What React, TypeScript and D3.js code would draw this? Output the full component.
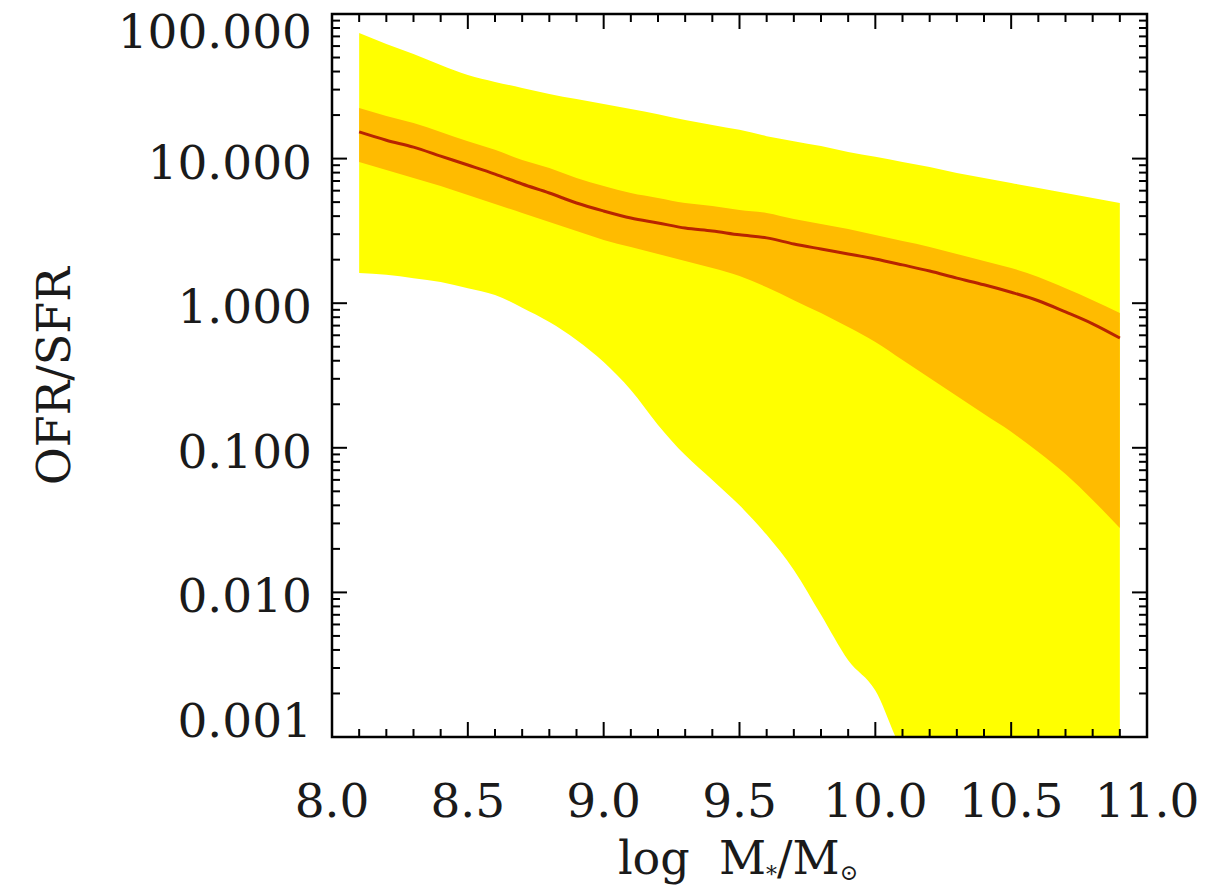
import React from "react";
import * as d3 from "d3";

// log stellar mass grid
const logMass = [8.1, 8.2, 8.3, 8.4, 8.5, 8.6, 8.7, 8.8, 8.9, 9.0, 9.1, 9.2, 9.3, 9.4, 9.5, 9.6, 9.7, 9.8, 9.9, 10.0, 10.1, 10.2, 10.3, 10.4, 10.5, 10.6, 10.7, 10.8, 10.9];
// median OFR/SFR
const median = [15.3, 13.4, 12.0, 10.4, 9.03, 7.82, 6.67, 5.78, 4.93, 4.34, 3.88, 3.59, 3.31, 3.16, 2.97, 2.83, 2.57, 2.37, 2.19, 2.02, 1.84, 1.67, 1.49, 1.34, 1.19, 1.04, 0.87, 0.72, 0.574];
// inner (orange) band
const innerHigh = [22.4, 19.7, 17.6, 15.3, 13.2, 11.5, 9.78, 8.61, 7.34, 6.47, 5.78, 5.34, 4.93, 4.70, 4.41, 4.21, 3.82, 3.53, 3.26, 2.96, 2.69, 2.45, 2.19, 1.96, 1.75, 1.52, 1.27, 1.05, 0.855];
const innerLow = [9.47, 8.34, 7.34, 6.47, 5.60, 4.86, 4.21, 3.65, 3.16, 2.74, 2.45, 2.19, 1.96, 1.75, 1.54, 1.29, 1.05, 0.855, 0.684, 0.539, 0.405, 0.304, 0.228, 0.171, 0.129, 0.0935, 0.0659, 0.0436, 0.0279];
// outer (yellow) band
const outerHigh = [74.0, 62.1, 52.9, 44.4, 37.8, 33.9, 30.8, 28.0, 25.8, 23.9, 22.0, 20.3, 18.5, 17.1, 15.8, 14.3, 13.2, 12.2, 11.1, 10.3, 9.47, 8.75, 7.95, 7.34, 6.78, 6.26, 5.78, 5.34, 4.93];
const outerLow = [1.62, 1.57, 1.49, 1.40, 1.27, 1.14, 0.93, 0.74, 0.557, 0.392, 0.251, 0.144, 0.089, 0.060, 0.040, 0.025, 0.0143, 0.0070, 0.0034, 0.0021, 0.0008, 0.0005, 0.0005, 0.0005, 0.0005, 0.0005, 0.0005, 0.0005, 0.0005];

const xTickValues = [8.0, 8.5, 9.0, 9.5, 10.0, 10.5, 11.0];
const xTickLabels = ["8.0", "8.5", "9.0", "9.5", "10.0", "10.5", "11.0"];
const yTickValues = [100, 10, 1, 0.1, 0.01, 0.001];
const yTickLabels = ["100.000", "10.000", "1.000", "0.100", "0.010", "0.001"];

const W = 1224;
const H = 886;
const L = 332, R = 1147, T = 14, B = 737;
const FONT = "'DejaVu Serif', serif";
const TXT = "#1a1a1a";

export default function App() {
  const x = d3.scaleLinear().domain([8.0, 11.0]).range([L, R]);
  const y = d3.scaleLog().domain([0.001, 100]).range([B, T]);

  const idx = logMass.map((_, i) => i);
  const area = (lo: number[], hi: number[]) =>
    d3
      .area<number>()
      .curve(d3.curveMonotoneX)
      .x((i) => x(logMass[i]))
      .y0((i) => y(lo[i]))
      .y1((i) => y(hi[i]))(idx) || "";
  const line =
    d3
      .line<number>()
      .curve(d3.curveMonotoneX)
      .x((i) => x(logMass[i]))
      .y((i) => y(median[i]))(idx) || "";

  const xMinor = d3.range(80, 111).map((v) => v / 10);
  const yMinor: { v: number; major: boolean }[] = [];
  for (let e = -3; e <= 2; e++) {
    for (let m = 1; m <= 9; m++) {
      const v = m * Math.pow(10, e);
      if (v > 100 + 1e-9) break;
      yMinor.push({ v, major: m === 1 });
    }
  }

  const ticks: JSX.Element[] = [];
  xMinor.forEach((v, i) => {
    const major = Math.abs(v * 2 - Math.round(v * 2)) < 1e-6;
    const len = major ? 15 : 8;
    const px = x(v);
    ticks.push(<line key={"xb" + i} x1={px} x2={px} y1={B} y2={B - len} stroke="#000" strokeWidth={2} />);
    ticks.push(<line key={"xt" + i} x1={px} x2={px} y1={T} y2={T + len} stroke="#000" strokeWidth={2} />);
  });
  yMinor.forEach((t, i) => {
    const len = t.major ? 15 : 8;
    const py = y(t.v);
    ticks.push(<line key={"yl" + i} x1={L} x2={L + len} y1={py} y2={py} stroke="#000" strokeWidth={2} />);
    ticks.push(<line key={"yr" + i} x1={R} x2={R - len} y1={py} y2={py} stroke="#000" strokeWidth={2} />);
  });

  return (
    <svg width={W} height={H} style={{ position: "absolute", left: 0, top: 0, background: "#fff" }}>
      <defs>
        <clipPath id="plotclip">
          <rect x={L} y={T} width={R - L} height={B - T} />
        </clipPath>
      </defs>
      <g clipPath="url(#plotclip)">
        <path d={area(outerLow, outerHigh)} fill="#FFFF00" />
        <path d={area(innerLow, innerHigh)} fill="#FFBB00" />
        <path d={line} fill="none" stroke="#B82400" strokeWidth={3} />
      </g>
      {ticks}
      <rect x={L} y={T} width={R - L} height={B - T} fill="none" stroke="#000" strokeWidth={2.5} />
      {xTickValues.map((v, i) => (
        <text key={"xl" + i} x={x(v)} y={817} textAnchor="middle" fontFamily={FONT} fontSize={47} fill={TXT}>
          {xTickLabels[i]}
        </text>
      ))}
      {yTickValues.map((v, i) => {
        const c = Math.max(31, Math.min(720, y(v) + 3));
        return (
          <text key={"yl" + i} x={312} y={c + 17} textAnchor="end" fontFamily={FONT} fontSize={47} fill={TXT}>
            {yTickLabels[i]}
          </text>
        );
      })}
      <text x={738} y={874} textAnchor="middle" fontFamily={FONT} fontSize={46} fill={TXT}>
        {"log\u00a0\u00a0M"}
        <tspan fontSize={22} dy={8}>*</tspan>
        <tspan dy={-8}>/M</tspan>
        <tspan fontSize={22} dy={6}>{"\u2299"}</tspan>
      </text>
      <text transform="translate(70,376) rotate(-90)" textAnchor="middle" fontFamily={FONT} fontSize={46} fill={TXT}>
        OFR/SFR
      </text>
    </svg>
  );
}
